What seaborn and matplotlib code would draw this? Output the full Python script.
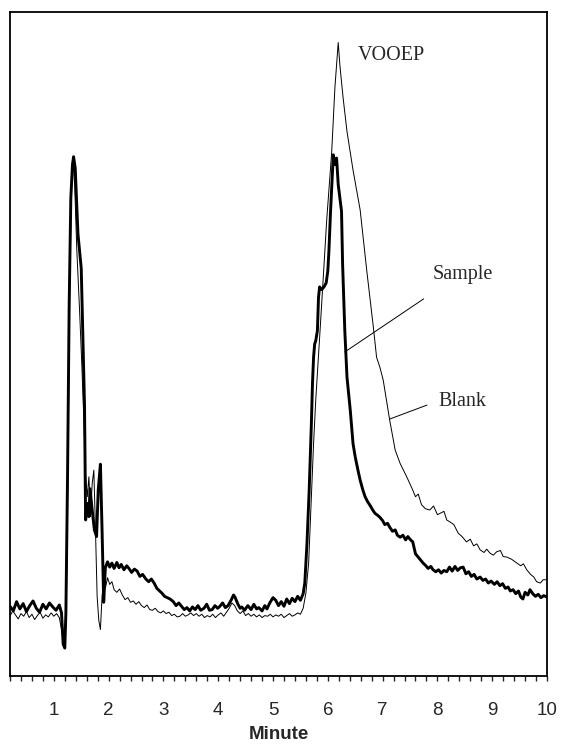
import numpy as np
import pandas as pd
import seaborn as sns
import matplotlib.pyplot as plt
from matplotlib.ticker import MultipleLocator

# chromatogram traces (time in minutes, detector signal in arbitrary units)
sample_t = [0.20, 0.26, 0.32, 0.38, 0.44, 0.50, 0.56, 0.62, 0.68, 0.74, 0.80, 0.86, 0.92, 0.98,
            1.04, 1.10, 1.14, 1.17, 1.20, 1.22, 1.25, 1.28, 1.31, 1.34, 1.36, 1.39, 1.44, 1.50,
            1.53, 1.56, 1.58, 1.61, 1.64, 1.66, 1.70, 1.74, 1.78, 1.81, 1.85, 1.88, 1.91, 1.94,
            1.98, 2.02, 2.06, 2.10, 2.15, 2.19, 2.23, 2.28, 2.33, 2.37, 2.42, 2.47, 2.52, 2.57,
            2.62, 2.68, 2.73, 2.78, 2.83, 2.88, 2.93, 2.97, 3.02, 3.07, 3.12, 3.18, 3.23, 3.28,
            3.33, 3.38, 3.43, 3.48, 3.53, 3.58, 3.63, 3.68, 3.74, 3.79, 3.84, 3.89, 3.94, 3.99,
            4.03, 4.08, 4.13, 4.18, 4.24, 4.28, 4.31, 4.36, 4.40, 4.43, 4.48, 4.54, 4.60, 4.65,
            4.70, 4.74, 4.80, 4.85, 4.89, 4.94, 5.00, 5.05, 5.10, 5.15, 5.20, 5.25, 5.30, 5.35,
            5.40, 5.45, 5.50, 5.55, 5.58, 5.62, 5.66, 5.70, 5.72, 5.74, 5.76, 5.78, 5.81, 5.83,
            5.85, 5.89, 5.93, 5.97, 6.00, 6.02, 6.05, 6.08, 6.10, 6.13, 6.16, 6.19, 6.22, 6.25,
            6.27, 6.31, 6.35, 6.41, 6.46, 6.50, 6.55, 6.59, 6.64, 6.68, 6.73, 6.77, 6.82, 6.86,
            6.91, 6.95, 7.00, 7.04, 7.09, 7.13, 7.18, 7.23, 7.27, 7.32, 7.37, 7.42, 7.46, 7.51,
            7.55, 7.60, 7.65, 7.70, 7.74, 7.79, 7.83, 7.88, 7.92, 7.97, 8.02, 8.07, 8.12, 8.17,
            8.22, 8.27, 8.32, 8.37, 8.42, 8.47, 8.52, 8.57, 8.62, 8.67, 8.72, 8.78, 8.83, 8.88,
            8.93, 8.98, 9.04, 9.09, 9.14, 9.19, 9.24, 9.29, 9.33, 9.38, 9.43, 9.48, 9.52, 9.56,
            9.60, 9.65, 9.69, 9.74, 9.79, 9.84, 9.89, 9.94, 10.00]
sample_y = [10.5, 9.8, 11.2, 10.1, 10.9, 9.7, 10.6, 11.3, 10.2, 9.6, 10.8, 10.1, 11.0, 10.4,
            9.9, 10.7, 9.5, 4.8, 4.2, 9.5, 30.0, 56.0, 72.0, 77.0, 78.2, 76.5, 66.6, 61.4,
            51.0, 40.7, 23.5, 26.0, 24.0, 28.2, 25.0, 22.0, 21.0, 28.0, 31.9, 22.0, 11.1, 16.3,
            17.2, 16.4, 17.0, 16.2, 17.1, 16.3, 16.8, 16.0, 16.6, 16.2, 15.6, 16.1, 15.8, 15.0,
            15.3, 14.6, 14.2, 14.6, 14.0, 13.2, 12.8, 12.5, 12.0, 11.8, 11.6, 11.2, 10.6, 11.0,
            10.5, 10.0, 10.3, 9.8, 10.4, 10.0, 10.6, 9.9, 10.2, 10.8, 9.9, 10.0, 10.6, 10.2,
            10.5, 11.0, 10.3, 10.6, 11.5, 12.2, 11.8, 10.8, 10.2, 10.4, 9.9, 10.6, 10.0, 10.8,
            10.1, 10.3, 9.8, 10.6, 10.1, 11.0, 11.8, 11.4, 10.6, 11.2, 10.5, 11.6, 10.9, 11.7,
            11.2, 12.0, 11.4, 12.4, 14.0, 20.0, 28.0, 38.0, 44.0, 48.0, 50.0, 50.5, 52.0, 57.0,
            58.6, 58.2, 58.6, 59.2, 61.0, 64.0, 70.0, 75.0, 78.5, 77.0, 78.0, 74.0, 72.0, 70.0,
            62.0, 52.0, 45.0, 40.0, 35.0, 33.0, 31.0, 29.5, 28.0, 27.0, 26.2, 25.7, 25.0, 24.5,
            24.2, 23.9, 23.4, 22.8, 23.0, 22.4, 21.8, 22.0, 21.2, 20.9, 21.2, 20.5, 21.0, 20.5,
            20.2, 18.4, 17.9, 17.4, 17.0, 16.6, 16.2, 16.5, 16.0, 15.7, 16.0, 15.5, 15.9, 15.7,
            16.4, 15.8, 16.5, 15.9, 16.3, 16.4, 15.4, 15.7, 15.0, 15.3, 14.6, 14.9, 14.4, 14.6,
            14.0, 14.3, 13.8, 14.2, 13.6, 13.9, 13.2, 13.4, 12.8, 13.0, 12.4, 12.8, 11.9, 11.6,
            12.6, 12.2, 13.0, 12.4, 12.0, 12.3, 11.8, 12.1, 11.9]

blank_t = [0.20, 0.25, 0.30, 0.35, 0.40, 0.45, 0.50, 0.55, 0.60, 0.65, 0.70, 0.75, 0.80, 0.85,
           0.90, 0.95, 1.00, 1.05, 1.10, 1.14, 1.17, 1.20, 1.23, 1.26, 1.29, 1.32, 1.35, 1.38,
           1.42, 1.47, 1.51, 1.55, 1.58, 1.61, 1.64, 1.67, 1.70, 1.73, 1.76, 1.79, 1.82, 1.85,
           1.88, 1.91, 1.94, 1.98, 2.02, 2.06, 2.10, 2.15, 2.20, 2.25, 2.30, 2.35, 2.40, 2.45,
           2.50, 2.55, 2.60, 2.65, 2.70, 2.75, 2.80, 2.85, 2.90, 2.95, 3.00, 3.05, 3.10, 3.15,
           3.20, 3.25, 3.30, 3.35, 3.40, 3.45, 3.50, 3.55, 3.60, 3.65, 3.70, 3.75, 3.80, 3.85,
           3.90, 3.95, 4.00, 4.05, 4.10, 4.15, 4.20, 4.25, 4.30, 4.35, 4.40, 4.45, 4.50, 4.55,
           4.60, 4.65, 4.70, 4.75, 4.80, 4.85, 4.90, 4.95, 5.00, 5.05, 5.10, 5.15, 5.20, 5.25,
           5.30, 5.35, 5.40, 5.45, 5.50, 5.55, 5.60, 5.65, 5.70, 5.74, 5.78, 5.87, 5.98, 6.07,
           6.13, 6.19, 6.22, 6.28, 6.35, 6.46, 6.59, 6.71, 6.83, 6.89, 6.95, 7.01, 7.07, 7.13,
           7.23, 7.32, 7.44, 7.55, 7.60, 7.65, 7.71, 7.78, 7.86, 7.93, 8.00, 8.05, 8.12, 8.17,
           8.23, 8.30, 8.38, 8.45, 8.53, 8.60, 8.66, 8.72, 8.78, 8.85, 8.90, 8.96, 9.02, 9.08,
           9.15, 9.20, 9.27, 9.35, 9.40, 9.45, 9.52, 9.57, 9.63, 9.70, 9.76, 9.81, 9.88, 9.93,
           10.00]
blank_y = [9.0, 9.8, 9.2, 8.6, 9.4, 9.0, 9.7, 8.8, 9.3, 8.5, 9.1, 9.6, 8.7, 9.2,
           8.9, 9.5, 9.0, 9.4, 8.8, 7.0, 5.5, 6.0, 12.0, 34.0, 58.0, 73.0, 77.5, 74.0,
           64.0, 55.0, 47.0, 38.0, 30.0, 27.0, 30.0, 24.0, 29.0, 31.0, 22.0, 12.0, 8.4, 7.0,
           12.0, 14.5, 13.2, 14.8, 13.8, 14.2, 13.0, 12.6, 13.1, 12.2, 11.5, 11.8, 11.1, 11.3,
           10.8, 11.2, 10.6, 10.3, 10.7, 10.0, 9.9, 10.2, 9.7, 9.5, 9.8, 9.4, 9.6, 9.1,
           9.3, 8.9, 9.0, 9.4, 9.0, 9.2, 9.5, 9.1, 9.4, 9.0, 9.3, 8.8, 9.1, 8.9,
           9.3, 8.8, 9.2, 9.5, 9.0, 9.6, 10.2, 11.0, 10.6, 9.8, 9.4, 9.8, 9.1, 9.4,
           9.0, 9.3, 8.9, 9.2, 8.8, 9.1, 9.0, 9.3, 8.9, 9.2, 9.0, 9.3, 8.8, 9.1,
           9.4, 9.0, 9.2, 9.5, 9.3, 10.2, 12.5, 17.0, 27.0, 35.0, 41.6, 53.6, 68.7, 78.8,
           88.7, 95.4, 92.0, 87.0, 82.0, 76.2, 70.2, 61.1, 52.6, 48.0, 46.5, 44.6, 41.5, 38.5,
           34.0, 32.0, 30.0, 28.0, 27.0, 27.4, 25.8, 25.2, 25.0, 25.6, 24.3, 24.5, 24.8, 23.5,
           23.2, 22.8, 21.5, 21.0, 20.2, 20.6, 19.6, 19.9, 19.0, 18.6, 19.1, 18.5, 18.2, 18.7,
           18.9, 18.0, 17.9, 17.6, 17.3, 17.0, 16.6, 16.9, 16.0, 15.3, 14.9, 14.2, 14.0, 14.5,
           14.5]

tick_minutes = [1, 2, 3, 4, 5, 6, 7, 8, 9, 10]

sns.set_style("white")
plt.rcParams['font.family'] = ['Liberation Sans', 'DejaVu Sans']

fig = plt.figure(figsize=(5.68, 7.45), dpi=100)
ax = fig.add_axes([10 / 568, 69 / 745, 537 / 568, 664 / 745])

sns.lineplot(x=sample_t, y=sample_y, ax=ax, color='black', linewidth=2.1,
             sort=False, estimator=None)
sns.lineplot(x=blank_t, y=blank_y, ax=ax, color='black', linewidth=0.7,
             sort=False, estimator=None)

ax.set_xlim(0.2, 10.0)
ax.set_ylim(0, 100)
ax.set_yticks([])
ax.set_xticks(tick_minutes)
ax.xaxis.set_minor_locator(MultipleLocator(0.2))
ax.tick_params(axis='x', which='both', direction='out', length=3.5, width=1,
               bottom=True, labelsize=13.5, pad=15)
ax.set_xlabel('Minute', fontsize=13.5, fontweight='bold', labelpad=5)

for sp in ax.spines.values():
    sp.set_color('black')
    sp.set_linewidth(1.3)

# labels and leader lines
serif = ['Liberation Serif', 'DejaVu Serif']
line_kw = dict(arrowstyle='-', lw=0.7, color='black', shrinkA=0, shrinkB=0)
ax.text(6.55, 93.5, 'VOOEP', family=serif, fontsize=14.5, va='center')
ax.text(7.92, 60.5, 'Sample', family=serif, fontsize=14.5, va='center')
ax.text(8.01, 41.3, 'Blank', family=serif, fontsize=14.5, va='center')
ax.annotate('', xy=(6.31, 48.8), xytext=(7.75, 56.8), arrowprops=line_kw)
ax.annotate('', xy=(7.13, 38.7), xytext=(7.81, 40.8), arrowprops=line_kw)

fig.savefig('out.png', dpi=100)
